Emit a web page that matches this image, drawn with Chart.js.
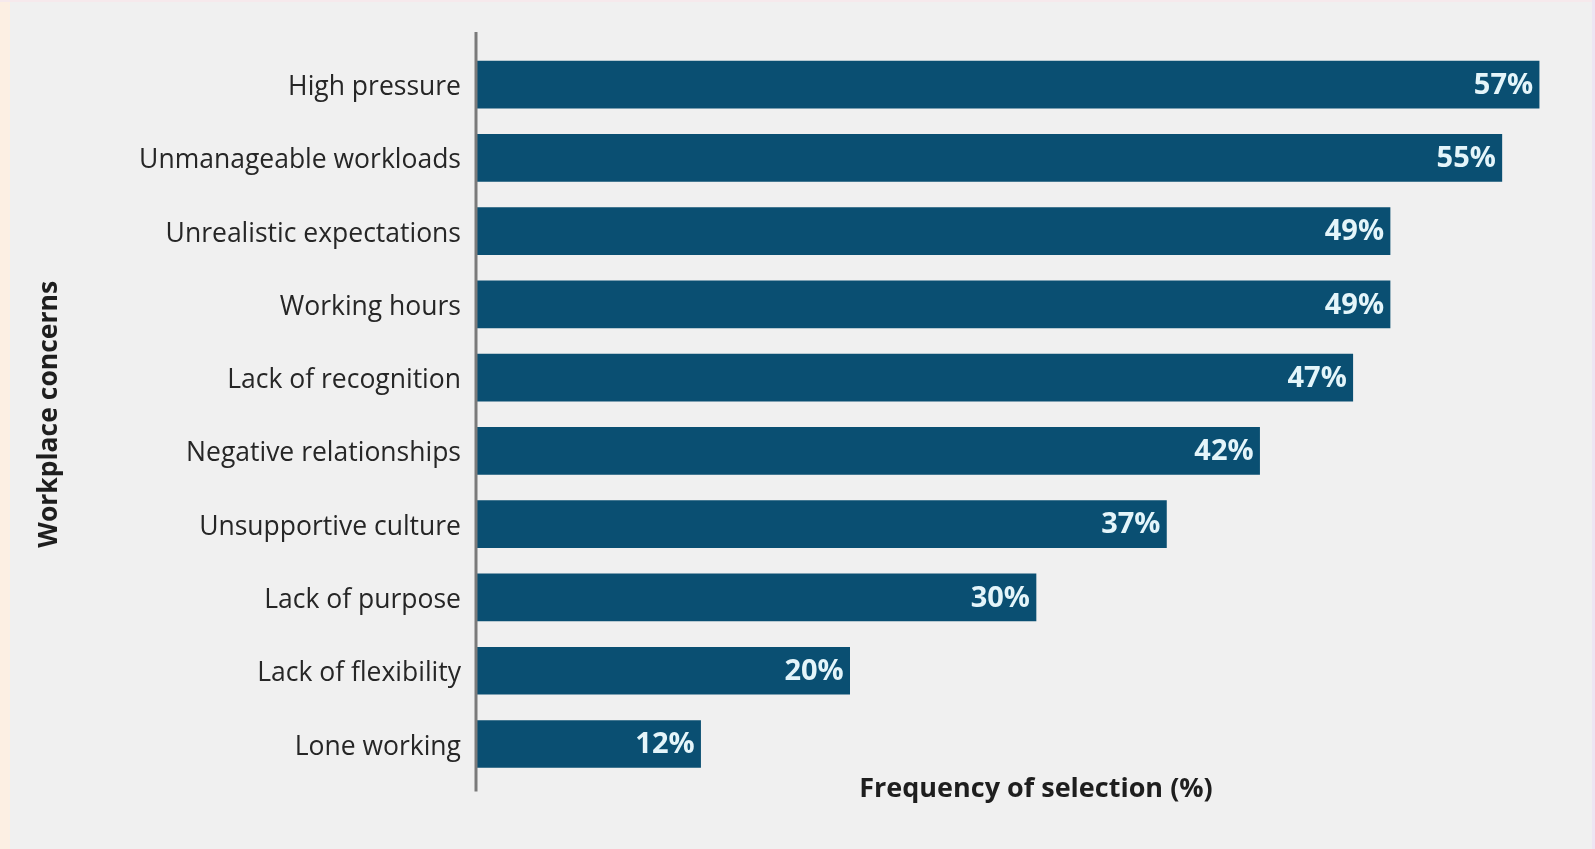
<!DOCTYPE html>
<html>
<head>
<meta charset="utf-8">
<script src="https://cdn.jsdelivr.net/npm/chart.js@4.4.1/dist/chart.umd.min.js"></script>
<style>
  html, body { margin: 0; padding: 0; }
  body { width: 1595px; height: 849px; background: #f0f0f0; position: relative; overflow: hidden; }
  .strip-left { position: absolute; left: 0; top: 0; width: 10px; height: 849px; background: #fcefe3; }
  .strip-top { position: absolute; left: 0; top: 0; width: 1595px; height: 2px; background: #f6e9ec; }
  .strip-right { position: absolute; right: 0; top: 0; width: 3px; height: 849px; background: #ede5f3; }
  #chart { position: absolute; left: 0; top: 0; }
</style>
</head>
<body>
<div class="strip-left"></div>
<div class="strip-top"></div>
<div class="strip-right"></div>
<canvas id="chart" width="1595" height="849"></canvas>
<script>
// Données
const concerns = [
    'High pressure',
    'Unmanageable workloads',
    'Unrealistic expectations',
    'Working hours',
    'Lack of recognition',
    'Negative relationships',
    'Unsupportive culture',
    'Lack of purpose',
    'Lack of flexibility',
    'Lone working'
];
const frequency = [57, 55, 49, 49, 47, 42, 37, 30, 20, 12];
const xTitle = 'Frequency of selection (%)';
const yTitle = 'Workplace concerns';

const fontFamily = "'Open Sans', 'Noto Sans', sans-serif";

// Étiquettes de valeur dans les barres
const valueLabels = {
    id: 'valueLabels',
    afterDatasetsDraw(chart) {
        const c = chart.ctx;
        const meta = chart.getDatasetMeta(0);
        c.save();
        c.font = "bold 29px " + fontFamily;
        c.fillStyle = '#e4f5fa';
        c.textAlign = 'right';
        c.textBaseline = 'middle';
        meta.data.forEach((bar, i) => {
            c.fillText(frequency[i] + '%', bar.x - 6, bar.y + 1);
        });
        c.restore();
    }
};

// Ligne de l'axe vertical, plus longue que la zone du graphique
const axisLine = {
    id: 'axisLine',
    afterDraw(chart) {
        const c = chart.ctx;
        const area = chart.chartArea;
        c.save();
        c.strokeStyle = '#7a7a7a';
        c.lineWidth = 3;
        c.beginPath();
        c.moveTo(area.left - 1, area.top - 16);
        c.lineTo(area.left - 1, area.bottom + 11);
        c.stroke();
        c.restore();
    }
};

const ctx = document.getElementById('chart');

const graph = new Chart(ctx, {
    type: 'bar',
    data: {
        labels: concerns,
        datasets: [{
            data: frequency,
            backgroundColor: '#0a4f72',
            borderWidth: 0,
            barThickness: 47
        }]
    },
    options: {
        indexAxis: 'y',
        responsive: false,
        animation: false,
        layout: {
            padding: { left: 10, right: 0, top: 48, bottom: 43 }
        },
        plugins: {
            legend: { display: false },
            tooltip: { enabled: false }
        },
        scales: {
            x: {
                min: 0,
                max: 60,
                grid: { display: false, drawTicks: false },
                border: { display: false },
                ticks: { display: false },
                title: {
                    display: true,
                    text: xTitle,
                    color: '#1e1e1e',
                    font: { family: fontFamily, size: 27, weight: 'bold' },
                    padding: { top: -7, bottom: 0 }
                }
            },
            y: {
                grid: { display: false, drawTicks: false },
                border: { display: false },
                ticks: {
                    color: '#262626',
                    padding: 16,
                    labelOffset: 3,
                    font: { family: fontFamily, size: 26.5, weight: '500' }
                },
                title: {
                    display: true,
                    text: yTitle,
                    color: '#1e1e1e',
                    font: { family: fontFamily, size: 26.5, weight: 'bold' },
                    padding: { top: 24, bottom: 0 }
                },
                afterFit(scale) {
                    scale.width = 467;
                }
            }
        }
    },
    plugins: [valueLabels, axisLine]
});
</script>
</body>
</html>
